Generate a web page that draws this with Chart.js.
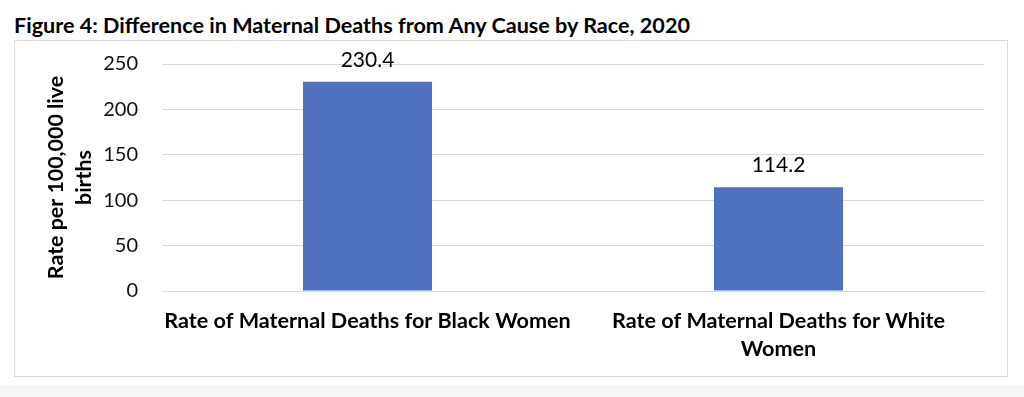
<!DOCTYPE html>
<html>
<head>
<meta charset="utf-8">
<script src="https://cdn.jsdelivr.net/npm/chart.js@4"></script>
<style>
  body { margin: 0; width: 1024px; height: 397px; background: #fff; font-family: Lato, sans-serif; overflow: hidden; position: relative; }
  #titulo { position: absolute; left: 14px; top: 13px; font-weight: bold; font-size: 21.6px; line-height: 24px; color: #000; white-space: nowrap; }
  #caixa { position: absolute; left: 14px; top: 40px; width: 992px; height: 335px; border: 1px solid #d9d9d9; }
  #rodape { position: absolute; left: 0; top: 385px; width: 1024px; height: 12px; background: #f7f7f7; }
  canvas { display: block; }
</style>
</head>
<body>
<div id="titulo">Figure 4: Difference in Maternal Deaths from Any Cause by Race, 2020</div>
<div id="caixa"><canvas id="grafico" width="992" height="335"></canvas></div>
<div id="rodape"></div>
<script>
// categorias (quebradas em linhas como no original)
const categorias = [
  ['Rate of Maternal Deaths for Black Women'],
  ['Rate of Maternal Deaths for White', 'Women']
];
const valores = [230.4, 114.2];
const tituloEixoY = ['Rate per 100,000 live', 'births'];
const eixoYMin = 0;
const eixoYMax = 250;
const eixoYPasso = 50;

const corBarra = '#4f71be';
const corGrade = '#d9d9d9';
const fonte = 'Lato, sans-serif';

// escreve o valor em cima de cada barra
const rotulosValores = {
  id: 'rotulosValores',
  afterDatasetsDraw(chart) {
    const ctx = chart.ctx;
    const meta = chart.getDatasetMeta(0);
    ctx.save();
    ctx.font = '21px ' + fonte;
    ctx.fillStyle = '#000';
    ctx.textAlign = 'center';
    ctx.textBaseline = 'middle';
    meta.data.forEach((barra, i) => {
      ctx.fillText(valores[i].toFixed(1), barra.x, barra.y - 22);
    });
    ctx.restore();
  }
};

const ctx = document.getElementById('grafico').getContext('2d');
new Chart(ctx, {
  type: 'bar',
  data: {
    labels: categorias,
    datasets: [{
      data: valores,
      backgroundColor: corBarra,
      borderWidth: 0,
      categoryPercentage: 1,
      barPercentage: 0.314
    }]
  },
  options: {
    responsive: false,
    animation: false,
    layout: { padding: { top: 23, right: 23, left: 0, bottom: 0 } },
    plugins: {
      legend: { display: false },
      tooltip: { enabled: false }
    },
    scales: {
      x: {
        grid: { display: false, drawTicks: false },
        border: { color: corGrade, width: 1 },
        ticks: {
          color: '#000',
          padding: 16,
          maxRotation: 0,
          autoSkip: false,
          font: { family: fonte, size: 21.6, weight: 'bold', lineHeight: 1.3 }
        },
        afterFit: s => { s.height = 85; }
      },
      y: {
        min: eixoYMin,
        max: eixoYMax,
        grid: { color: corGrade, drawTicks: false },
        border: { display: false },
        ticks: {
          stepSize: eixoYPasso,
          color: '#111',
          padding: 24,
          font: { family: fonte, size: 20 }
        },
        title: {
          display: true,
          text: tituloEixoY,
          color: '#000',
          padding: { top: 27, bottom: 0 },
          font: { family: fonte, size: 21.4, weight: 'bold', lineHeight: 1.3 }
        },
        afterFit: s => {
          s.width = 147;
          // o padding dos ticks empurrava a área do gráfico para baixo
          s.paddingTop = 0;
          s.paddingBottom = 0;
        }
      }
    }
  },
  plugins: [rotulosValores]
});
</script>
</body>
</html>
